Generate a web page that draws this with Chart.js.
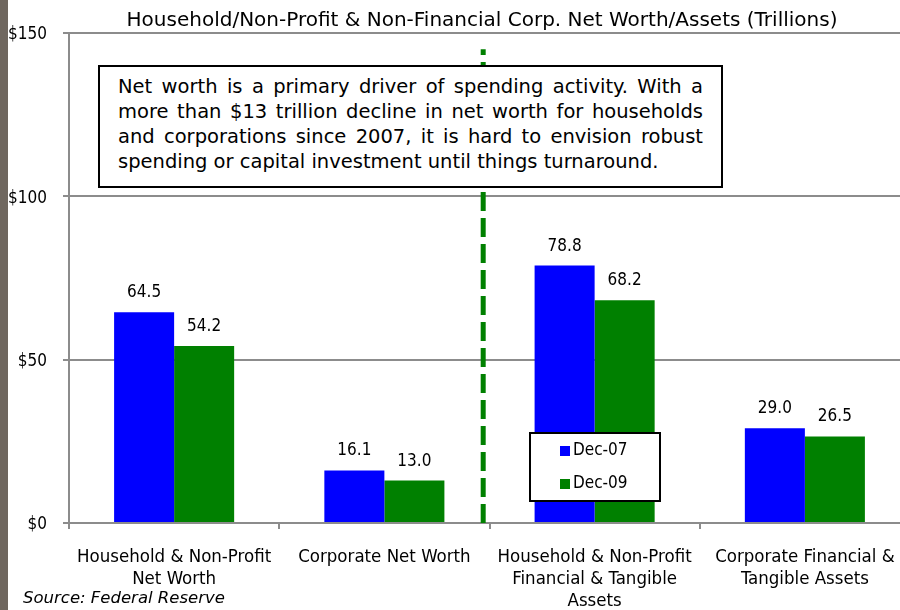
<!DOCTYPE html>
<html>
<head>
<meta charset="utf-8">
<script src="https://cdn.jsdelivr.net/npm/chart.js@4"></script>
<style>
    html, body { margin: 0; padding: 0; background: #fff; overflow: hidden; }
    #wrap { position: relative; width: 900px; height: 610px; overflow: hidden; }
    #chartBox { position: absolute; left: 0; top: 0; width: 912px; height: 610px; }
    #edge { position: absolute; left: 0; top: 0; width: 8px; height: 610px; background: #6f675f; }
    .txt { font-family: "DejaVu Sans", sans-serif; color: #000; }
    #title { position: absolute; top: 7px; left: 82px; width: 800px; text-align: center; font-size: 20px; line-height: 24px; }
    #note { position: absolute; left: 98px; top: 65px; width: 585px; height: 105px; padding: 7px 18px 7px 18px;
            border: 2px solid #000; background: #fff; font-size: 19.5px; line-height: 25px; }
    #note div { text-align: justify; text-align-last: justify; white-space: nowrap; }
    #note div.last { text-align-last: left; }
    #source { position: absolute; left: 23px; top: 587px; font-size: 16.5px; font-style: italic; line-height: 22px; }
</style>
</head>
<body>
<div id="wrap">
    <div id="chartBox"><canvas id="chart"></canvas></div>
    <div id="edge"></div>
    <div id="title" class="txt">Household/Non-Profit &amp; Non-Financial Corp. Net Worth/Assets (Trillions)</div>
    <div id="note" class="txt">
        <div>Net worth is a primary driver of spending activity. With a</div>
        <div>more than $13 trillion decline in net worth for households</div>
        <div>and corporations since 2007, it is hard to envision robust</div>
        <div class="last">spending or capital investment until things turnaround.</div>
    </div>
    <div id="source" class="txt">Source: Federal Reserve</div>
</div>
<script>
let categories = [
    ["Household & Non-Profit", "Net Worth"],
    "Corporate Net Worth",
    ["Household & Non-Profit", "Financial & Tangible", "Assets"],
    ["Corporate Financial &", "Tangible Assets"]
];
let dec07 = [64.5, 16.1, 78.8, 29.0];
let dec09 = [54.2, 13.0, 68.2, 26.5];
let seriesNames = ["Dec-07", "Dec-09"];
let yTicks = [0, 50, 100, 150];

let fontName = '"DejaVu Sans Condensed", "DejaVu Sans", sans-serif';
let gridGray = "#8c8c8c";

// values above each bar
let valueLabels = {
    id: "valueLabels",
    afterDatasetsDraw(chart) {
        let ctx = chart.ctx;
        ctx.save();
        ctx.font = "17px " + fontName;
        ctx.fillStyle = "#000";
        ctx.textAlign = "center";
        ctx.textBaseline = "alphabetic";
        chart.data.datasets.forEach((ds, i) => {
            let meta = chart.getDatasetMeta(i);
            meta.data.forEach((bar, j) => {
                ctx.fillText(ds.data[j].toFixed(1), bar.x, bar.y - 15);
            });
        });
        ctx.restore();
    }
};

// green dashed divider between net worth and assets
let divider = {
    id: "divider",
    afterDatasetsDraw(chart) {
        let ctx = chart.ctx;
        let x = chart.scales.x.getPixelForValue(1.47);
        let yTop = chart.scales.y.getPixelForValue(145);
        let yBottom = chart.scales.y.getPixelForValue(0);
        ctx.save();
        ctx.strokeStyle = "#008000";
        ctx.lineWidth = 5;
        ctx.setLineDash([19, 7]);
        ctx.beginPath();
        ctx.moveTo(x, yBottom);
        ctx.lineTo(x, yTop);
        ctx.stroke();
        ctx.restore();
    }
};

// boxed legend sitting over the third category
let boxLegend = {
    id: "boxLegend",
    afterDraw(chart) {
        let ctx = chart.ctx;
        let colors = ["#0000ff", "#008000"];
        ctx.save();
        ctx.fillStyle = "#fff";
        ctx.fillRect(530, 433, 130, 68);
        ctx.strokeStyle = "#000";
        ctx.lineWidth = 2;
        ctx.strokeRect(530, 433, 130, 68);
        ctx.font = "17px " + fontName;
        ctx.textBaseline = "middle";
        ctx.textAlign = "left";
        for (let i = 0; i < seriesNames.length; i++) {
            let cy = 451 + i * 33;
            ctx.fillStyle = colors[i];
            ctx.fillRect(560, cy - 5, 10, 10);
            ctx.fillStyle = "#000";
            ctx.fillText(seriesNames[i], 573, cy);
        }
        ctx.restore();
    }
};

new Chart(document.getElementById("chart"), {
    type: "bar",
    data: {
        labels: categories,
        datasets: [
            { label: seriesNames[0], data: dec07, backgroundColor: "#0000ff", borderWidth: 0 },
            { label: seriesNames[1], data: dec09, backgroundColor: "#008000", borderWidth: 0 }
        ]
    },
    options: {
        responsive: true,
        maintainAspectRatio: false,
        animation: false,
        layout: { padding: { top: 33, right: 2, left: 0, bottom: 0 } },
        categoryPercentage: 0.571,
        barPercentage: 1.0,
        plugins: {
            legend: { display: false },
            title: { display: false },
            tooltip: { enabled: false }
        },
        scales: {
            x: {
                grid: { display: true, drawOnChartArea: false, color: gridGray, lineWidth: 2, tickLength: 6, offset: true },
                border: { display: true, color: gridGray, width: 2 },
                ticks: {
                    color: "#000",
                    font: { family: fontName, size: 18.5, lineHeight: "22px" },
                    padding: 17,
                    maxRotation: 0,
                    autoSkip: false
                },
                afterFit(scale) { scale.height = 87; }
            },
            y: {
                min: 0,
                max: 150,
                afterBuildTicks(scale) { scale.ticks = yTicks.map(v => ({ value: v })); },
                grid: { color: gridGray, lineWidth: 2, tickLength: 6 },
                border: { display: true, color: gridGray, width: 2 },
                ticks: {
                    color: "#000",
                    font: { family: fontName, size: 17 },
                    padding: 16,
                    labelOffset: 2,
                    callback: v => "$" + v
                },
                afterFit(scale) { scale.width = 69; }
            }
        }
    },
    plugins: [valueLabels, divider, boxLegend]
});
</script>
</body>
</html>
